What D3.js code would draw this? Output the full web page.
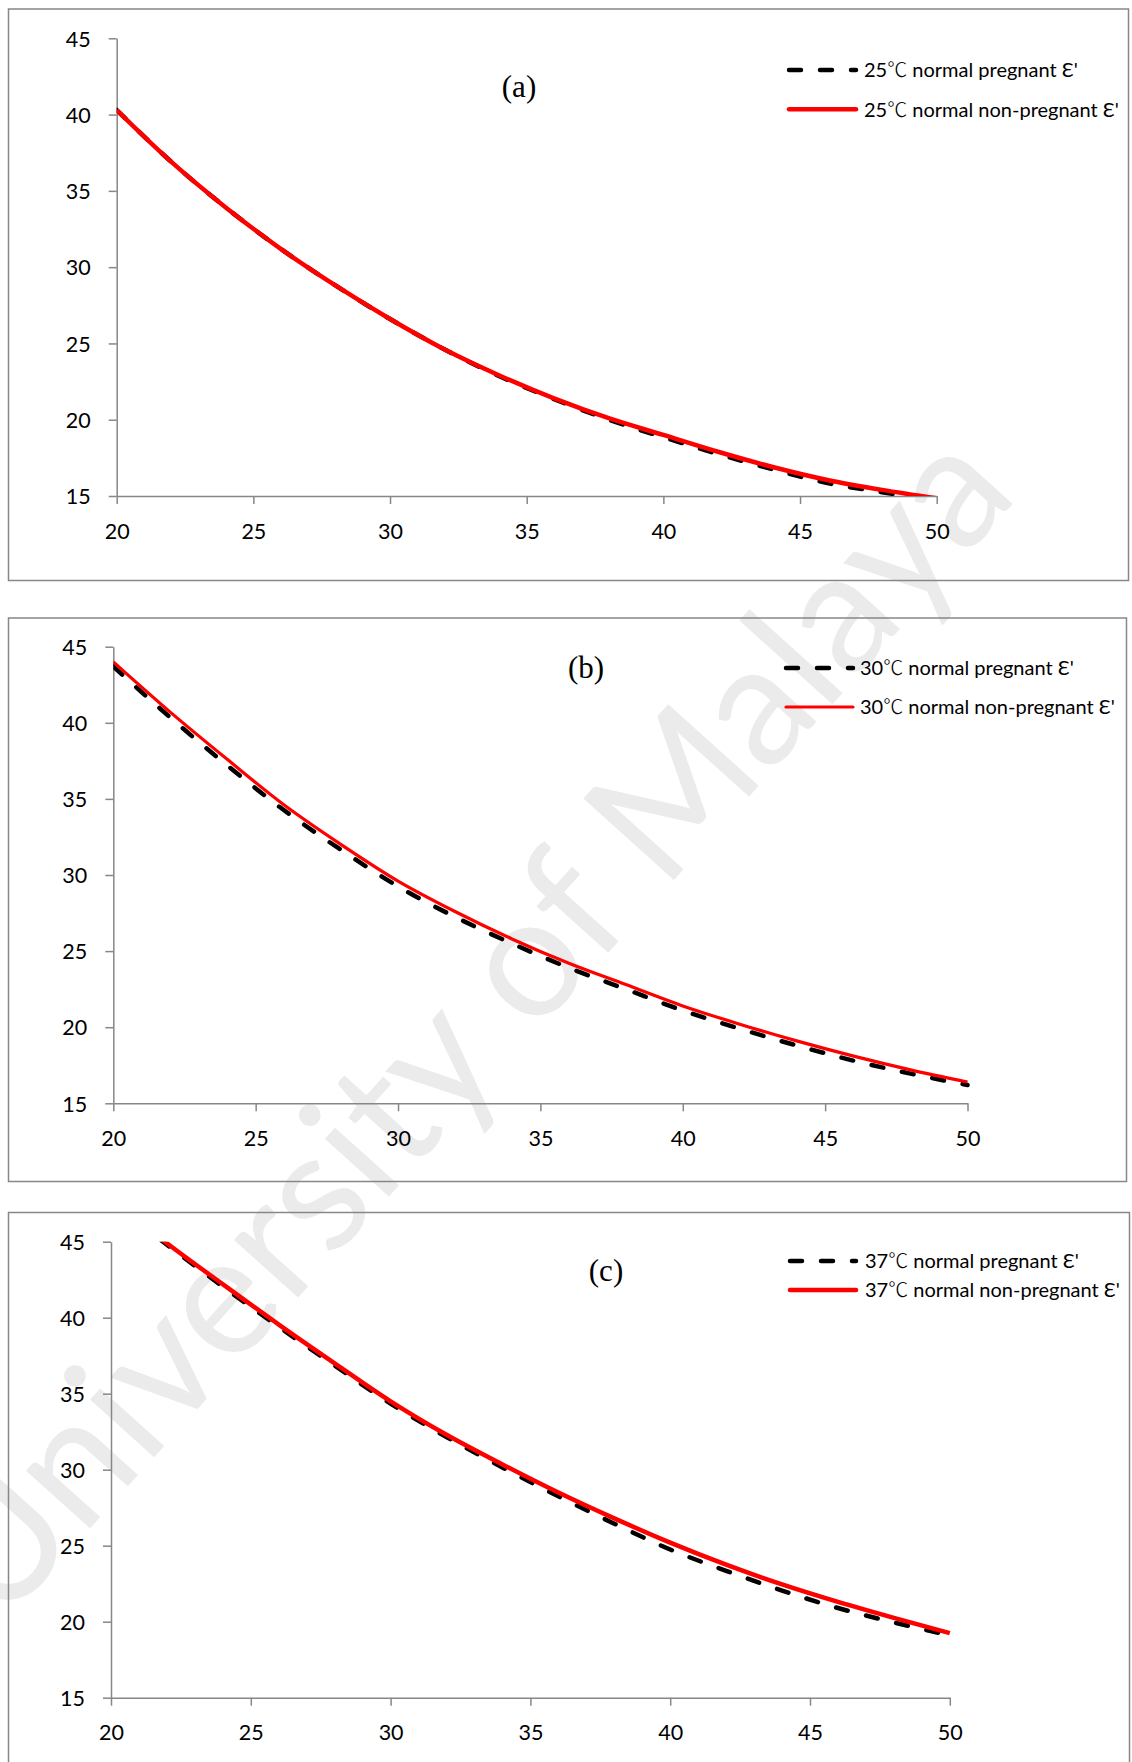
<!DOCTYPE html>
<html>
<head>
<meta charset="utf-8">
<script src="https://cdn.jsdelivr.net/npm/d3@7/dist/d3.min.js"></script>
<style>
  html, body { margin: 0; padding: 0; background: #fff; }
  svg { display: block; }
</style>
</head>
<body>
<div id="chart"></div>
<script>
// x values (same for every series)
var freq = [20, 22, 24, 26, 28, 30, 32, 34, 36, 38, 40, 42, 44, 46, 48, 50];

// (a) 25 C
var pregnant25    = [40.3, 36.9, 33.9, 31.2, 28.8, 26.6, 24.6, 22.85, 21.35, 20.0, 18.85, 17.75, 16.75, 15.85, 15.25, 14.7];
var nonPregnant25 = [40.3, 36.9, 33.9, 31.2, 28.8, 26.6, 24.6, 22.9, 21.4, 20.1, 19.0, 17.9, 16.9, 16.05, 15.4, 14.85];
// (b) 30 C
var pregnant30    = [43.7, 40.35, 37.2, 34.25, 31.65, 29.25, 27.25, 25.5, 23.9, 22.5, 21.1, 19.9, 18.8, 17.8, 16.95, 16.2];
var nonPregnant30 = [44.0, 40.7, 37.6, 34.6, 32.0, 29.6, 27.6, 25.8, 24.2, 22.8, 21.4, 20.2, 19.1, 18.1, 17.2, 16.4];
// (c) 37 C
var pregnant37    = [47.7, 44.8, 42.05, 39.4, 36.85, 34.35, 32.15, 30.15, 28.25, 26.45, 24.75, 23.35, 22.05, 20.9, 19.95, 19.1];
var nonPregnant37 = [47.8, 44.9, 42.2, 39.55, 37.0, 34.5, 32.3, 30.35, 28.5, 26.8, 25.2, 23.75, 22.45, 21.3, 20.25, 19.25];

var xTicks = [20, 25, 30, 35, 40, 45, 50];
var yTicks = [15, 20, 25, 30, 35, 40, 45];
var temps = ["25", "30", "37"];
var panelNames = ["(a)", "(b)", "(c)"];
var pregnantSeries = [pregnant25, pregnant30, pregnant37];
var nonPregnantSeries = [nonPregnant25, nonPregnant30, nonPregnant37];

// layout of each panel
var layout = [
  { box: [8.5, 9, 1128.5, 580.5], plot: [116.7, 38.3, 936.7, 496], leg: [787, 858, 70, 109.3], legX: 864, lab: [519, 86], redW: 4.5 },
  { box: [8.5, 618, 1126.5, 1181.5], plot: [113.3, 646.7, 967.5, 1103.3], leg: [784, 855, 668, 707], legX: 860, lab: [586, 667], redW: 3.2 },
  { box: [8.5, 1212.5, 1129.5, 1800], plot: [111, 1241.7, 949.8, 1697.7], leg: [788, 858, 1261, 1290], legX: 865, lab: [606, 1270], redW: 4.5 }
];

var W = 1132, H = 1762;
var font = "Lato, 'Noto Sans CJK SC', 'DejaVu Sans', sans-serif";
var gray = "#878787";

var svg = d3.select("#chart").append("svg")
  .attr("width", W).attr("height", H);

// watermark
svg.append("text")
  .attr("transform", "translate(510,1062) rotate(-48)")
  .attr("text-anchor", "middle")
  .attr("font-family", font)
  .attr("font-size", 170)
  .attr("fill", "#ebebeb")
  .text("University of Malaya");

layout.forEach(function (p, i) {
  var g = svg.append("g");

  // outer frame
  g.append("rect")
    .attr("x", p.box[0]).attr("y", p.box[1])
    .attr("width", p.box[2] - p.box[0]).attr("height", p.box[3] - p.box[1])
    .attr("fill", "none").attr("stroke", gray).attr("stroke-width", 1.5);

  var x = d3.scaleLinear().domain([20, 50]).range([p.plot[0], p.plot[2]]);
  var y = d3.scaleLinear().domain([15, 45]).range([p.plot[3], p.plot[1]]);

  var clipId = "clip" + i;
  svg.append("clipPath").attr("id", clipId).append("rect")
    .attr("x", p.plot[0]).attr("y", p.plot[1])
    .attr("width", p.plot[2] - p.plot[0] + 3).attr("height", p.plot[3] - p.plot[1]);

  // axes
  var xAxis = g.append("g")
    .attr("transform", "translate(0," + p.plot[3] + ")")
    .call(d3.axisBottom(x).tickValues(xTicks).tickSize(8).tickSizeOuter(0));
  var yAxis = g.append("g")
    .attr("transform", "translate(" + p.plot[0] + ",0)")
    .call(d3.axisLeft(y).tickValues(yTicks).tickSize(8).tickSizeOuter(0).tickPadding(18));

  [xAxis, yAxis].forEach(function (a) {
    a.attr("font-family", font).attr("font-size", 21.5);
    a.selectAll("path, line").attr("stroke", gray).attr("stroke-width", 1.5);
    a.selectAll("text").attr("fill", "#000");
  });
  xAxis.selectAll("text").attr("y", 35).attr("dy", "0.36em");
  yAxis.selectAll("text").attr("dy", "0.36em");

  var line = d3.line()
    .x(function (d, j) { return x(freq[j]); })
    .y(function (d) { return y(d); })
    .curve(d3.curveMonotoneX);

  var lines = g.append("g").attr("clip-path", "url(#" + clipId + ")");
  lines.append("path")
    .attr("d", line(pregnantSeries[i]))
    .attr("fill", "none").attr("stroke", "#000").attr("stroke-width", 4.5)
    .attr("stroke-dasharray", "12,19").attr("stroke-linecap", "round");
  lines.append("path")
    .attr("d", line(nonPregnantSeries[i]))
    .attr("fill", "none").attr("stroke", "#ff0000").attr("stroke-width", p.redW)
    .attr("stroke-linejoin", "round");

  // panel label
  g.append("text")
    .attr("x", p.lab[0]).attr("y", p.lab[1]).attr("dy", "0.35em")
    .attr("text-anchor", "middle")
    .attr("font-family", "'Liberation Serif', 'Times New Roman', serif")
    .attr("font-size", 31)
    .text(panelNames[i]);

  // legend
  var leg = g.append("g");
  leg.append("line")
    .attr("x1", p.leg[0] + 2).attr("x2", p.leg[1] - 2)
    .attr("y1", p.leg[2]).attr("y2", p.leg[2])
    .attr("stroke", "#000").attr("stroke-width", 4.5)
    .attr("stroke-dasharray", "12,19").attr("stroke-linecap", "round");
  leg.append("line")
    .attr("x1", p.leg[0] + 2).attr("x2", p.leg[1] - 2)
    .attr("y1", p.leg[3]).attr("y2", p.leg[3])
    .attr("stroke", "#ff0000").attr("stroke-width", p.redW)
    .attr("stroke-linecap", "round");
  var labels = [" normal pregnant \u0190'", " normal non-pregnant \u0190'"];
  var lt = leg.selectAll("text.lg").data(labels).enter().append("text")
    .attr("class", "lg")
    .attr("x", p.legX)
    .attr("y", function (d, k) { return p.leg[2 + k]; })
    .attr("dy", "0.36em")
    .attr("font-family", font).attr("font-size", 20)
    .attr("fill", "#000");
  lt.append("tspan").text(temps[i]);
  lt.append("tspan").attr("font-family", "'Noto Sans CJK SC'").attr("font-weight", 300).text("\u2103");
  lt.append("tspan").text(function (d) { return d; });
});
</script>
</body>
</html>
